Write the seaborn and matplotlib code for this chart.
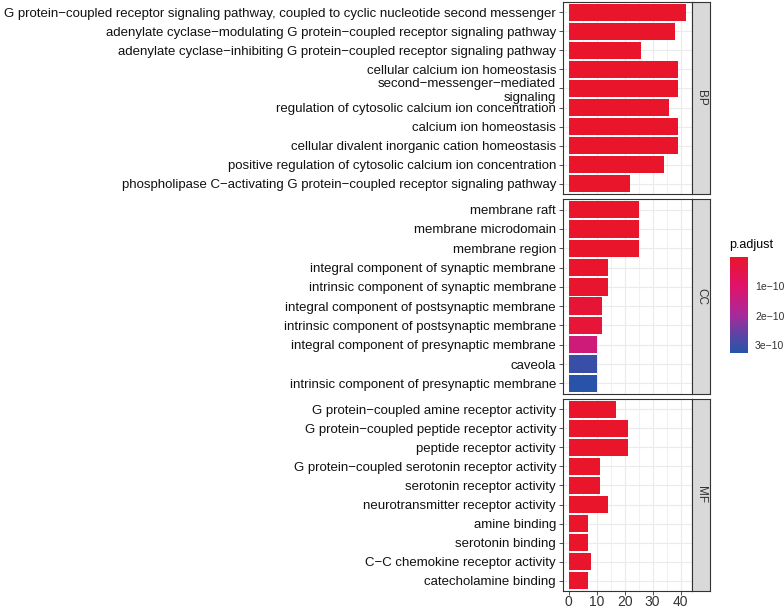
"""GO enrichment barplot (BP / CC / MF facets) coloured by p.adjust."""

import matplotlib

matplotlib.use("Agg")

import matplotlib.pyplot as plt
import numpy as np
import pandas as pd
import seaborn as sns
from matplotlib.colors import LinearSegmentedColormap, Normalize
from matplotlib.ticker import MultipleLocator

bp_terms = [
    "G protein−coupled receptor signaling pathway, coupled to cyclic nucleotide second messenger",
    "adenylate cyclase−modulating G protein−coupled receptor signaling pathway",
    "adenylate cyclase−inhibiting G protein−coupled receptor signaling pathway",
    "cellular calcium ion homeostasis",
    "second−messenger−mediated\nsignaling",
    "regulation of cytosolic calcium ion concentration",
    "calcium ion homeostasis",
    "cellular divalent inorganic cation homeostasis",
    "positive regulation of cytosolic calcium ion concentration",
    "phospholipase C−activating G protein−coupled receptor signaling pathway",
]
bp_counts = [42, 38, 26, 39, 39, 36, 39, 39, 34, 22]
bp_padj = [2.1e-22, 4.0e-21, 6.5e-20, 1.1e-19, 1.3e-19, 2.0e-19, 3.1e-19, 3.1e-19, 8.0e-18, 9.2e-17]

cc_terms = [
    "membrane raft",
    "membrane microdomain",
    "membrane region",
    "integral component of synaptic membrane",
    "intrinsic component of synaptic membrane",
    "integral component of postsynaptic membrane",
    "intrinsic component of postsynaptic membrane",
    "integral component of presynaptic membrane",
    "caveola",
    "intrinsic component of presynaptic membrane",
]
cc_counts = [25, 25, 25, 14, 14, 12, 12, 10, 10, 10]
cc_padj = [1.2e-14, 1.2e-14, 1.6e-14, 4.0e-12, 5.5e-12, 1.6e-11, 1.8e-11, 1.3e-10, 3.05e-10, 3.27e-10]

mf_terms = [
    "G protein−coupled amine receptor activity",
    "G protein−coupled peptide receptor activity",
    "peptide receptor activity",
    "G protein−coupled serotonin receptor activity",
    "serotonin receptor activity",
    "neurotransmitter receptor activity",
    "amine binding",
    "serotonin binding",
    "C−C chemokine receptor activity",
    "catecholamine binding",
]
mf_counts = [17, 21, 21, 11, 11, 14, 7, 7, 8, 7]
mf_padj = [3.0e-15, 5.1e-15, 6.8e-15, 1.4e-13, 1.4e-13, 2.2e-13, 1.1e-12, 1.1e-12, 2.5e-12, 3.4e-12]

facets = ["BP", "CC", "MF"]

sns.set_theme(style="white")
plt.rcParams["font.family"] = ["Liberation Sans", "DejaVu Sans"]

frames = []
for name, terms, counts, padj in [
    ("BP", bp_terms, bp_counts, bp_padj),
    ("CC", cc_terms, cc_counts, cc_padj),
    ("MF", mf_terms, mf_counts, mf_padj),
]:
    frames.append(pd.DataFrame({"ont": name, "term": terms, "count": counts, "padj": padj}))
df = pd.concat(frames, ignore_index=True)

cmap = LinearSegmentedColormap.from_list(
    "padj",
    [(0.0, "#E8152B"), (0.3, "#E0136A"), (0.6, "#A82A9A"), (0.85, "#4F48A6"), (1.0, "#2853A8")],
)
norm = Normalize(vmin=df["padj"].min(), vmax=df["padj"].max())

fig = plt.figure(figsize=(7.84, 6.08), dpi=100)
W, H = 784, 608
panel_l, panel_r, strip_w = 563, 692, 18
panel_rows = [(2, 194), (199, 394), (399, 591)]
grid_col = "#EBEBEB"
border_col = "#333333"

for i, (name, (top, bottom)) in enumerate(zip(facets, panel_rows)):
    sub = df[df["ont"] == name]
    ax = fig.add_axes([panel_l / W, (H - bottom) / H, (panel_r - panel_l) / W, (bottom - top) / H])
    palette = {t: cmap(norm(p)) for t, p in zip(sub["term"], sub["padj"])}
    sns.barplot(
        data=sub, x="count", y="term", hue="term", palette=palette,
        orient="h", width=0.9, legend=False, saturation=1, linewidth=0, ax=ax, zorder=3,
    )
    ax.set_xlim(-2.1, 44.1)
    ax.set_ylim(len(sub) - 0.45, -0.55)
    ax.xaxis.set_major_locator(MultipleLocator(10))
    ax.xaxis.set_minor_locator(MultipleLocator(5))
    ax.grid(which="major", axis="both", color=grid_col, linewidth=0.8, zorder=0)
    ax.grid(which="minor", axis="x", color=grid_col, linewidth=0.5, zorder=0)
    ax.set_axisbelow(True)
    ax.set_xlabel("")
    ax.set_ylabel("")
    for sp in ax.spines.values():
        sp.set_color(border_col)
        sp.set_linewidth(0.8)
    ax.tick_params(axis="y", which="major", left=True, length=3, width=0.6, color=border_col,
                   labelsize=9.5, labelcolor="#111111", pad=2)
    ax.tick_params(axis="x", which="major", bottom=(i == 2), length=3, width=0.6, color=border_col,
                   labelsize=10, labelcolor="#333333", labelbottom=(i == 2), pad=0)
    ax.tick_params(axis="x", which="minor", bottom=False)

    sax = fig.add_axes([panel_r / W, (H - bottom) / H, strip_w / W, (bottom - top) / H])
    sax.set_facecolor("#D9D9D9")
    sax.set_xticks([])
    sax.set_yticks([])
    for sp in sax.spines.values():
        sp.set_color(border_col)
        sp.set_linewidth(0.8)
    sax.text(0.5, 0.5, name, rotation=-90, ha="center", va="center",
             fontsize=8.5, color="#333333", transform=sax.transAxes)

# colour bar legend, low p.adjust (red) on top
cax = fig.add_axes([730 / W, (H - 353) / H, 18 / W, 96 / H])
sm = plt.cm.ScalarMappable(cmap=cmap, norm=norm)
cb = fig.colorbar(sm, cax=cax)
cb.outline.set_visible(False)
cax.invert_yaxis()
cb.set_ticks([1e-10, 2e-10, 3e-10])
cb.set_ticklabels(["1e−10", "2e−10", "3e−10"])
cax.tick_params(direction="in", length=3.5, width=0.8, color="white", left=True, right=True,
                labelsize=7.5, labelcolor="#333333", pad=5)
fig.text(729 / W, (H - 245) / H, "p.adjust", fontsize=9, ha="left", va="center", color="black")

fig.savefig("out.png", dpi=100)
